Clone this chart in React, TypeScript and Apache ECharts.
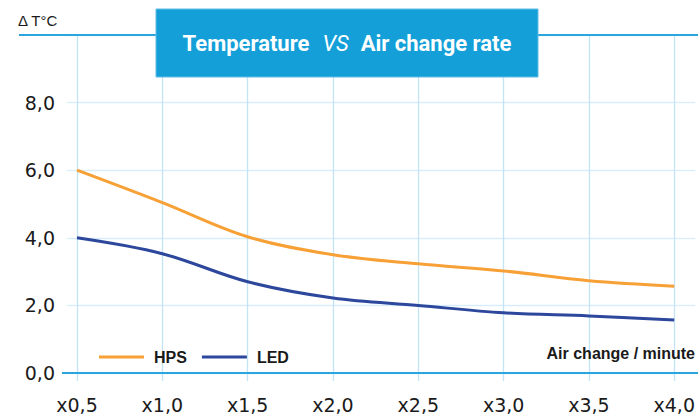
import React, { useEffect, useRef } from "react";
import * as echarts from "echarts";

const xValues = [0.5, 1.0, 1.5, 2.0, 2.5, 3.0, 3.5, 4.0];
const hpsValues = [6.0, 5.04, 4.03, 3.5, 3.23, 3.02, 2.73, 2.57];
const ledValues = [4.0, 3.53, 2.7, 2.22, 2.0, 1.78, 1.69, 1.57];
const seriesNames = ["HPS", "LED"];
const titleParts = ["Temperature", "VS", "Air change rate"];
const yUnit = "Δ T°C";
const xUnit = "Air change / minute";

const GRID_BLUE_V = "#C3E4F6";
const GRID_BLUE_H = "#D8EDF9";
const LINE_BLUE = "#2BA6DC";

export default function App() {
  const ref = useRef<HTMLDivElement>(null);
  useEffect(() => {
    if (!ref.current) return;
    const chart = echarts.init(ref.current, undefined, { renderer: "svg" });
    const fmt = (v: number) => v.toFixed(1).replace(".", ",");
    chart.setOption({
      animation: false,
      backgroundColor: "#ffffff",
      grid: { left: 77, right: 23, top: 35, bottom: 41 },
      xAxis: {
        type: "value",
        min: 0.5,
        max: 4.0,
        interval: 0.5,
        axisLine: { show: false },
        axisTick: { show: true, length: 8, lineStyle: { color: GRID_BLUE_V, width: 1.3 } },
        splitLine: { show: true, lineStyle: { color: GRID_BLUE_V, width: 1.3 } },
        axisLabel: {
          margin: 22,
          fontSize: 19,
          color: "#1a1a1a",
          fontFamily: "DejaVu Sans",
          formatter: (v: number) => "x" + fmt(v),
        },
      },
      yAxis: [
        {
          type: "value",
          min: 0,
          max: 10,
          interval: 2,
          axisLine: { show: false },
          axisTick: { show: true, length: 10, lineStyle: { color: GRID_BLUE_H, width: 1.3 } },
          splitLine: { show: true, lineStyle: { color: GRID_BLUE_H, width: 1.3 } },
          axisLabel: {
            margin: 22,
            fontSize: 19,
            color: "#1a1a1a",
            fontFamily: "DejaVu Sans",
            formatter: (v: number) => (v >= 10 ? "" : fmt(v)),
          },
        },
        {
          type: "value",
          position: "right",
          min: 0,
          max: 10,
          interval: 2,
          axisLine: { show: false },
          axisTick: { show: true, length: 21, lineStyle: { color: GRID_BLUE_H, width: 1.3 } },
          splitLine: { show: false },
          axisLabel: { show: false },
        },
      ],
      legend: {
        left: 94,
        top: 344,
        itemWidth: 45,
        itemHeight: 3,
        itemGap: 15,
        icon: "rect",
        data: seriesNames,
        textStyle: {
          fontSize: 16,
          fontWeight: "bold",
          color: "#1a1a1a",
          fontFamily: "Liberation Sans",
          padding: [0, 0, 0, 5],
        },
      },
      series: [
        {
          name: seriesNames[0],
          type: "line",
          smooth: 0.35,
          showSymbol: false,
          symbol: "none",
          lineStyle: { width: 3, color: "#F7A035" },
          itemStyle: { color: "#F7A035" },
          data: xValues.map((x, i) => [x, hpsValues[i]]),
          z: 3,
        },
        {
          name: seriesNames[1],
          type: "line",
          smooth: 0.35,
          showSymbol: false,
          symbol: "none",
          lineStyle: { width: 3, color: "#2C479B" },
          itemStyle: { color: "#2C479B" },
          data: xValues.map((x, i) => [x, ledValues[i]]),
          z: 3,
        },
      ],
      graphic: [
        {
          type: "line",
          shape: { x1: 19, y1: 35, x2: 698, y2: 35 },
          style: { stroke: LINE_BLUE, lineWidth: 2 },
          z: 5,
        },
        {
          type: "line",
          shape: { x1: 62, y1: 373, x2: 698, y2: 373 },
          style: { stroke: LINE_BLUE, lineWidth: 2 },
          z: 5,
        },
        {
          type: "rect",
          shape: { x: 156, y: 9, width: 382, height: 68 },
          style: { fill: "#149FD8", stroke: "#5FBDE6", lineWidth: 1 },
          z: 10,
        },
        {
          type: "text",
          x: 347,
          y: 43,
          style: {
            text: `{b|${titleParts[0]}}{i|${titleParts[1]}}{b|${titleParts[2]}}`,
            align: "center",
            verticalAlign: "middle",
            rich: {
              b: { fontSize: 22, fontWeight: "bold", fill: "#ffffff", fontFamily: "Roboto" },
              i: {
                fontSize: 22,
                fontStyle: "italic",
                fontWeight: "normal",
                fill: "#ffffff",
                fontFamily: "Roboto",
                padding: [0, 12, 0, 13],
              },
            },
          },
          z: 11,
        },
        {
          type: "text",
          x: 18,
          y: 20,
          style: {
            text: yUnit,
            fontSize: 15,
            fill: "#1a1a1a",
            fontFamily: "Liberation Sans",
            verticalAlign: "middle",
          },
          z: 11,
        },
        {
          type: "text",
          x: 695,
          y: 353,
          style: {
            text: xUnit,
            fontSize: 16,
            fontWeight: "bold",
            fill: "#1a1a1a",
            fontFamily: "Liberation Sans",
            align: "right",
            verticalAlign: "middle",
          },
          z: 11,
        },
      ],
    });
    return () => chart.dispose();
  }, []);
  return <div ref={ref} style={{ width: 698, height: 414, position: "absolute", left: 0, top: 0 }} />;
}
